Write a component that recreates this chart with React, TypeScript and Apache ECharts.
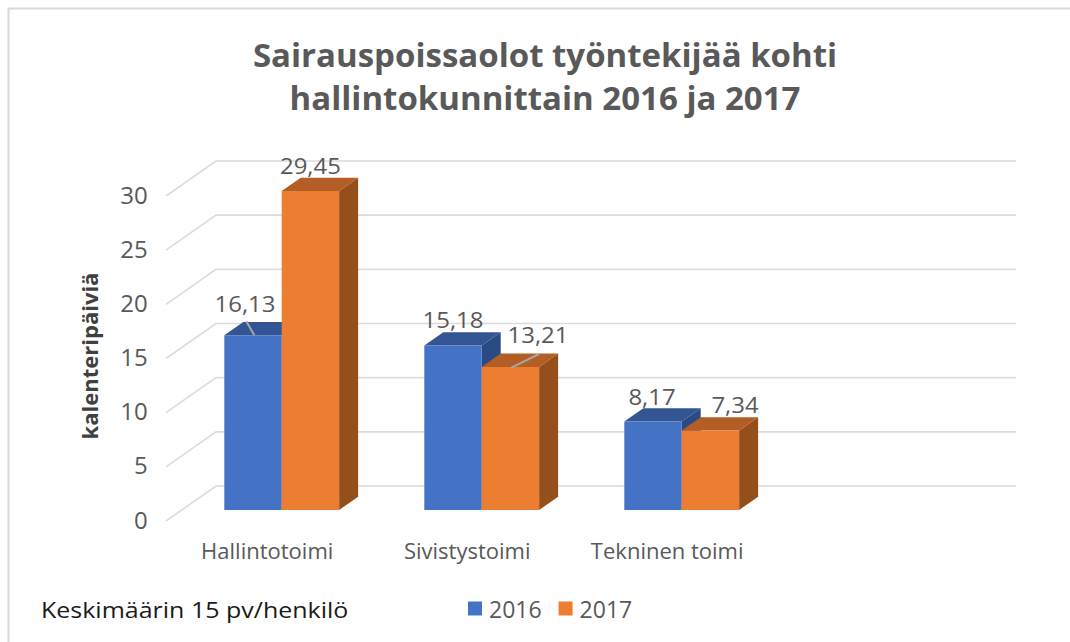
import React, { useEffect, useRef } from "react";
import * as echarts from "echarts";

const categories = ["Hallintotoimi", "Sivistystoimi", "Tekninen toimi", ""];
const values2016 = [16.13, 15.18, 8.17];
const values2017 = [29.45, 13.21, 7.34];
const yTicks = [0, 5, 10, 15, 20, 25, 30];

// Manual placement of labels relative to the top-centre of a bar's front face
const labelOffsets2016 = [[-8, -31], [0, -25.5], [-1, -24.5]];
const labelOffsets2017 = [[0, -25], [27.6, -32], [24.6, -25.5]];
const leaders2016 = [[-6.7, -14, 1.3, 0], null, null];
const leaders2017 = [null, [28.6, -12.9, 0.6, 1], null];

const FONT = "'Open Sans', sans-serif";
const BAR_W = 57.4;
const DX = 19;
const DY = 13.3;

function barSeries(
  name: string,
  values: number[],
  side: number,
  colors: { front: string; top: string; right: string },
  offsets: number[][],
  leaders: (number[] | null)[],
) {
  return {
    type: "custom",
    name,
    z: 3,
    clip: false,
    itemStyle: { color: colors.front },
    encode: { x: 0, y: 1 },
    data: values.map((v, i) => [i, v]),
    renderItem(params: any, api: any) {
      const i = api.value(0);
      const v = api.value(1);
      const p = api.coord([i, v]);
      const base = api.coord([i, 0]);
      const x0 = side < 0 ? p[0] - BAR_W : p[0];
      const x1 = x0 + BAR_W;
      const yT = p[1];
      const yB = base[1];
      const cx = (x0 + x1) / 2;
      const off = offsets[params.dataIndex];
      const lead = leaders[params.dataIndex];
      const children: any[] = [
        {
          type: "polygon",
          shape: { points: [[x1, yT], [x1 + DX, yT - DY], [x1 + DX, yB - DY], [x1, yB]] },
          style: { fill: colors.right },
        },
        {
          type: "polygon",
          shape: { points: [[x0, yT], [x0 + DX, yT - DY], [x1 + DX, yT - DY], [x1, yT]] },
          style: { fill: colors.top },
        },
        {
          type: "rect",
          shape: { x: x0, y: yT, width: BAR_W, height: yB - yT },
          style: { fill: colors.front },
        },
      ];
      if (lead) {
        children.push({
          type: "line",
          shape: { x1: cx + lead[0], y1: yT + lead[1], x2: cx + lead[2], y2: yT + lead[3] },
          style: { stroke: "#A6A6A6", lineWidth: 2 },
        });
      }
      children.push({
        type: "text",
        x: cx + off[0],
        y: yT + off[1],
        scaleX: 1.14,
        style: {
          text: v.toFixed(2).replace(".", ","),
          fill: "#595959",
          font: `21px ${FONT}`,
          align: "center",
          verticalAlign: "middle",
        },
      });
      return { type: "group", children };
    },
  };
}

const wallSeries = {
  type: "custom",
  name: "walls",
  z: 1,
  clip: false,
  silent: true,
  encode: { y: 0 },
  data: yTicks.map((t) => [t]),
  renderItem(params: any, api: any) {
    const t = api.value(0);
    const [, y] = api.coord([0, t]);
    const x = params.coordSys.x;
    const w = params.coordSys.width;
    const stroke = { stroke: "#DCDCDC", lineWidth: 1.6 };
    return {
      type: "polyline",
      shape: { points: [[x - 15.7, y + 11], [x + 34.3, y - 24], [x + 34.3 + w, y - 24]] },
      style: { ...stroke, fill: "none" },
    };
  },
};

const option: any = {
  animation: false,
  backgroundColor: "#FFFFFF",
  title: {
    text: "Sairauspoissaolot työntekijää kohti\nhallintokunnittain 2016 ja 2017",
    left: 540,
    top: 28,
    textAlign: "center",
    textStyle: {
      fontFamily: FONT,
      fontWeight: "bold",
      fontSize: 33,
      lineHeight: 43,
      color: "#595959",
    },
  },
  grid: { left: 181.7, top: 185, width: 800, height: 325 },
  xAxis: {
    type: "category",
    data: categories,
    axisLine: { show: false },
    axisTick: { show: false },
    axisLabel: {
      interval: 0,
      margin: 29,
      fontFamily: FONT,
      fontSize: 22,
      color: "#595959",
      padding: [0, 29, 0, 0],
    },
  },
  yAxis: {
    type: "value",
    min: 0,
    max: 30,
    interval: 5,
    axisLine: { show: false },
    axisTick: { show: false },
    splitLine: { show: false },
    axisLabel: {
      margin: 34,
      fontFamily: FONT,
      fontSize: 24,
      color: "#595959",
      verticalAlign: "top",
      lineHeight: 18,
    },
    name: "kalenteripäiviä",
    nameLocation: "middle",
    nameGap: 82,
    nameTextStyle: {
      fontFamily: FONT,
      fontWeight: "bold",
      fontSize: 22,
      color: "#404040",
      padding: [0, 17, 0, 0],
    },
  },
  legend: {
    data: ["2016", "2017"],
    left: 468,
    top: 597,
    padding: 0,
    icon: "rect",
    itemWidth: 14,
    itemHeight: 14,
    itemGap: 17,
    textStyle: { fontFamily: FONT, fontSize: 23, color: "#595959", padding: [0, 0, 0, 2] },
  },
  graphic: [
    {
      type: "rect",
      silent: true,
      shape: { x: 8.5, y: 8.5, width: 1300, height: 900 },
      style: { fill: "none", stroke: "#D9D9D9", lineWidth: 2 },
    },
    {
      type: "text",
      x: 41,
      y: 610,
      scaleX: 1.19,
      style: { text: "Keskimäärin 15 pv/henkilö", fill: "#1A1A1A", font: `21px ${FONT}`, verticalAlign: "middle" },
    },
  ],
  series: [
    wallSeries,
    barSeries("2016", values2016, -1, { front: "#4472C4", top: "#335593", right: "#2A4A84" }, labelOffsets2016, leaders2016),
    barSeries("2017", values2017, 1, { front: "#ED7D31", top: "#B35E25", right: "#944F1B" }, labelOffsets2017, leaders2017),
  ],
};

export default function App() {
  const ref = useRef<HTMLDivElement>(null);
  useEffect(() => {
    const chart = echarts.init(ref.current!, null, { renderer: "svg" });
    chart.setOption(option);
    return () => chart.dispose();
  }, []);
  return <div ref={ref} style={{ position: "absolute", left: 0, top: 0, width: 1070, height: 642 }} />;
}
